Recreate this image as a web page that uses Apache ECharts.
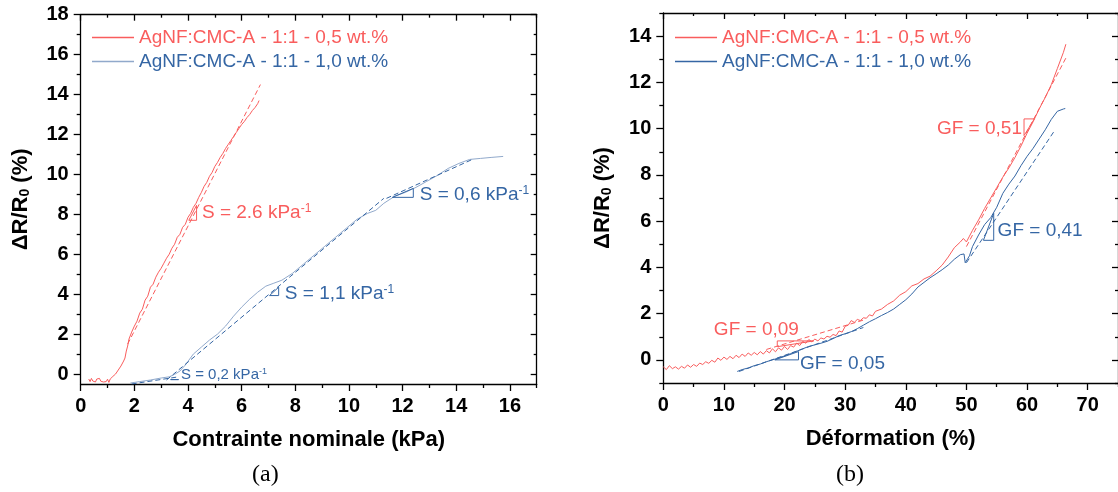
<!DOCTYPE html>
<html>
<head>
<meta charset="utf-8">
<script src="https://cdn.jsdelivr.net/npm/echarts@6/dist/echarts.min.js"></script>
<style>
html,body{margin:0;padding:0;background:#fff;}
#c{width:1118px;height:492px;}
</style>
</head>
<body>
<div id="c"></div>
<script>
// ---------- DATA ----------
const nameA = 'AgNF:CMC-A - 1:1 - 0,5 wt.%';
const nameB = 'AgNF:CMC-A - 1:1 - 1,0 wt.%';

// (a) Contrainte nominale (kPa) vs dR/R0 (%)
const a_red = [[0.30,-0.25],[0.35,-0.38],[0.40,-0.22],[0.45,-0.35],[0.50,-0.28],[0.55,-0.40],[0.60,-0.25],[0.65,-0.33],[0.70,-0.22],[0.75,-0.36],[0.80,-0.28],[0.85,-0.40],[0.90,-0.30],[0.95,-0.38],[1.00,-0.26],[1.05,-0.42],[1.10,-0.25],[1.15,-0.30],[1.20,-0.12],[1.25,-0.20],[1.30,0.00],[1.35,-0.05],[1.40,0.20],[1.45,0.15],[1.50,0.40],[1.55,0.35],[1.60,0.65],[1.65,0.80],[1.70,1.15],[1.75,1.40],[1.80,1.75],[1.85,1.80],[1.90,2.10],[2.00,2.40],[2.10,2.65],[2.20,3.05],[2.30,3.25],[2.40,3.70],[2.50,3.90],[2.60,4.35],[2.70,4.50],[2.80,4.85],[2.90,5.10],[3.00,5.30],[3.10,5.55],[3.20,5.80],[3.30,6.00],[3.40,6.30],[3.50,6.50],[3.60,6.85],[3.70,7.00],[3.80,7.35],[3.90,7.50],[4.00,7.85],[4.10,8.05],[4.20,8.35],[4.30,8.55],[4.40,8.85],[4.50,9.10],[4.60,9.40],[4.70,9.60],[4.80,9.90],[4.90,10.10],[5.00,10.40],[5.10,10.60],[5.20,10.85],[5.30,11.05],[5.40,11.30],[5.50,11.50],[5.60,11.70],[5.70,11.90],[5.80,12.10],[5.90,12.30],[6.00,12.50],[6.10,12.65],[6.20,12.85],[6.30,13.00],[6.40,13.20],[6.50,13.35],[6.60,13.55],[6.65,13.70]];
const a_redFit = [[1.75,1.5],[6.7,14.5]];
const a_blue = [[1.85,-0.45],[2.2,-0.38],[2.6,-0.30],[3.0,-0.20],[3.3,-0.14],[3.5,-0.02],[3.7,0.15],[3.9,0.45],[4.2,1.0],[4.5,1.35],[4.8,1.7],[5.1,2.0],[5.4,2.4],[5.7,2.9],[6.0,3.35],[6.3,3.75],[6.6,4.1],[6.9,4.4],[7.2,4.55],[7.5,4.7],[7.9,5.05],[8.3,5.5],[8.7,5.95],[9.1,6.4],[9.5,6.85],[9.9,7.3],[10.3,7.75],[10.7,8.05],[11.0,8.2],[11.3,8.55],[11.7,8.9],[12.1,9.1],[12.5,9.35],[12.9,9.65],[13.3,9.95],[13.7,10.3],[14.1,10.55],[14.5,10.75],[14.9,10.8],[15.3,10.85],[15.75,10.9]];
const a_blueFit1 = [[1.9,-0.5],[3.6,-0.15]];
const a_blueFit2 = [[3.2,-0.3],[11.3,8.8]];
const a_blueFit3 = [[11.4,8.8],[14.6,10.75]];
const a_triRed = [[4.03,7.70],[4.32,7.70],[4.32,8.45],[4.03,7.70]];
const a_triBlue1 = [[3.35,-0.28],[3.65,-0.28],[3.65,-0.20],[3.35,-0.28]];
const a_triBlue2 = [[7.04,3.93],[7.38,3.93],[7.38,4.35],[7.04,3.93]];
const a_triBlue3 = [[11.62,8.85],[12.40,8.85],[12.40,9.30],[11.62,8.85]];
const a_xMajor = [0,2,4,6,8,10,12,14,16];
const a_xMinor = [1,3,5,7,9,11,13,15,17];
const a_yMajor = [0,2,4,6,8,10,12,14,16,18];
const a_yMinor = [1,3,5,7,9,11,13,15,17];

// (b) Déformation (%) vs dR/R0 (%)
const b_red = [[0,-0.3],[0.5,-0.42],[1,-0.25],[1.5,-0.38],[2,-0.3],[2.5,-0.4],[3,-0.28],[3.5,-0.36],[4,-0.22],[4.5,-0.32],[5,-0.2],[5.5,-0.28],[6,-0.14],[6.5,-0.2],[7,-0.08],[7.5,-0.15],[8,-0.02],[8.5,-0.1],[9,0.08],[9.5,-0.02],[10,0.12],[10.5,0.02],[11,0.15],[11.5,0.05],[12,0.2],[12.5,0.1],[13,0.25],[13.5,0.15],[14,0.3],[14.5,0.2],[15,0.32],[15.5,0.22],[16,0.36],[16.5,0.25],[17,0.4],[17.5,0.3],[18,0.48],[18.5,0.35],[19,0.52],[19.5,0.42],[20,0.58],[20.5,0.45],[21,0.62],[21.5,0.55],[22,0.72],[22.5,0.62],[23,0.8],[23.5,0.72],[24,0.88],[24.5,0.78],[25,0.9],[25.5,0.82],[26,0.95],[26.5,0.9],[27,1.02],[27.5,0.98],[28,1.1],[28.5,1.05],[29,1.25],[29.5,1.2],[30,1.45],[30.5,1.5],[31,1.7],[31.5,1.62],[32,1.75],[32.5,1.7],[33,1.82],[33.5,1.8],[34,1.95],[34.5,1.9],[35,2.1],[36,2.2],[37,2.4],[38,2.55],[39,2.8],[40,2.95],[41,3.2],[42,3.3],[43,3.5],[44,3.62],[45,3.85],[46,4.1],[47,4.45],[48,4.85],[49,5.1],[49.5,5.25],[50,5.1],[50.5,5.35],[51,5.6],[52,6.05],[53,6.55],[54,7.0],[55,7.45],[56,7.9],[57,8.3],[58,8.75],[59,9.25],[60,9.8],[61,10.3],[62,10.85],[63,11.35],[64,11.9],[65,12.6],[66,13.3],[66.4,13.65]];
const b_redFit1 = [[17,0.45],[33,1.72]];
const b_redFit2 = [[50,4.9],[66.6,13.15]];
const b_blue = [[12.2,-0.5],[13,-0.42],[14,-0.35],[15,-0.25],[16,-0.18],[17,-0.08],[18,0.0],[19,0.08],[20,0.17],[21,0.27],[22,0.37],[23,0.48],[24,0.58],[25,0.65],[26,0.72],[27,0.8],[28,0.92],[29,1.05],[30,1.13],[31,1.22],[32,1.35],[33,1.5],[34,1.65],[35,1.78],[36,1.92],[37,2.05],[38,2.2],[39,2.4],[40,2.6],[41,2.85],[42,3.15],[43,3.35],[44,3.55],[45,3.72],[46,3.9],[47,4.1],[48,4.35],[49,4.55],[49.6,4.58],[49.8,4.2],[50,4.15],[50.5,4.5],[51,4.9],[52,5.4],[53,5.85],[54,6.15],[55,6.6],[56,7.2],[57,7.6],[58,7.95],[59,8.4],[60,8.8],[61,9.15],[62,9.55],[63,9.95],[64,10.4],[65,10.75],[66,10.85],[66.3,10.87]];
const b_blueFit1 = [[12.5,-0.5],[33,1.4]];
const b_blueFit2 = [[50,4.2],[64.5,9.9]];
const b_triRed1 = [[18.8,0.57],[18.8,0.82],[24.8,0.82],[18.8,0.57]];
const b_triRed2 = [[59.5,9.70],[59.5,10.42],[61.2,10.42],[59.5,9.70]];
const b_triBlue1 = [[18.4,0],[22.3,0],[22.3,0.36],[18.4,0]];
const b_triBlue2 = [[52.8,5.17],[54.5,5.17],[54.5,6.34],[52.8,5.17]];
const b_xMajor = [0,10,20,30,40,50,60,70];
const b_xMinor = [5,15,25,35,45,55,65,75];
const b_yMajor = [0,2,4,6,8,10,12,14];
const b_yMinor = [-1,1,3,5,7,9,11,13,15];

// annotation labels: [x, y, text, superscript, colour]
const a_labels = [[4.51,8.1,'S = 2.6 kPa','-1','red'],[7.6,4.03,'S = 1,1 kPa','-1','blue'],[12.63,9.0,'S = 0,6 kPa','-1','blue']];
const a_smallLabels = [[3.73,-0.03,'S = 0,2 kPa','-1','blue']];
const b_labels = [[8.3,1.29,'GF = 0,09','','red'],[22.5,-0.17,'GF = 0,05','','blue'],[55.1,5.6,'GF = 0,41','','blue']];
const b_leftLabels = [[59.2,10.0,'GF = 0,51','','red']];

// ---------- STYLE ----------
const RED = '#f95d5d';
const BLUE = '#3566a4';
const BLUE_LIGHT = '#91a9cb';
const FONT = '"Liberation Sans", Arial, sans-serif';

const grids = [
  {left: 80.7, top: 14.7, width: 456, height: 369.3},
  {left: 663.3, top: 13, width: 458.3, height: 370}
];
const ranges = [
  {xmin:0, xmax:17, ymin:-0.5, ymax:18, xMaj:a_xMajor, xMin:a_xMinor, yMaj:a_yMajor, yMin:a_yMinor, xName:'Contrainte nominale (kPa)'},
  {xmin:0, xmax:75, ymin:-1, ymax:15, xMaj:b_xMajor, xMin:b_xMinor, yMaj:b_yMajor, yMin:b_yMinor, xName:'Déformation (%)'}
];

const axLine = {show:true, onZero:false, lineStyle:{color:'#000', width:1.3}};
const tickStyle = {color:'#000', width:1.3};
const labelFont = {fontFamily: FONT, fontWeight:'bold', fontSize:20, color:'#000'};

const xAxis = [], yAxis = [];
ranges.forEach((r, g) => {
  xAxis.push({gridIndex:g, type:'value', position:'bottom', min:r.xmin, max:r.xmax,
    axisLine:axLine, splitLine:{show:false},
    axisTick:{show:true, inside:false, length:7, lineStyle:tickStyle, customValues:r.xMaj},
    axisLabel:Object.assign({show:true, margin:12, customValues:r.xMaj}, labelFont),
    name:r.xName, nameLocation:'middle', nameGap:45,
    nameTextStyle:{fontFamily:FONT, fontWeight:'bold', fontSize:22, color:'#000'}});
  xAxis.push({gridIndex:g, type:'value', position:'bottom', min:r.xmin, max:r.xmax,
    axisLine:{show:false, onZero:false}, splitLine:{show:false}, axisLabel:{show:false},
    axisTick:{show:true, inside:false, length:4, lineStyle:tickStyle, customValues:r.xMin}});
  xAxis.push({gridIndex:g, type:'value', position:'top', min:r.xmin, max:r.xmax,
    axisLine:axLine, splitLine:{show:false}, axisLabel:{show:false},
    axisTick:{show:true, inside:true, length:6, lineStyle:tickStyle, customValues:r.xMaj}});
  xAxis.push({gridIndex:g, type:'value', position:'top', min:r.xmin, max:r.xmax,
    axisLine:{show:false, onZero:false}, splitLine:{show:false}, axisLabel:{show:false},
    axisTick:{show:true, inside:true, length:3, lineStyle:tickStyle, customValues:r.xMin}});

  yAxis.push({gridIndex:g, type:'value', position:'left', min:r.ymin, max:r.ymax,
    axisLine:axLine, splitLine:{show:false},
    axisTick:{show:true, inside:false, length:7, lineStyle:tickStyle, customValues:r.yMaj},
    axisLabel:Object.assign({show:true, margin:12, customValues:r.yMaj}, labelFont),
    name:'{a|ΔR/R}{s|0}{a| (%)}', nameLocation:'middle', nameGap:49, nameRotate:90,
    nameTextStyle:{rich:{
      a:{fontFamily:FONT, fontWeight:'bold', fontSize:22, color:'#000'},
      s:{fontFamily:FONT, fontWeight:'bold', fontSize:14, color:'#000', verticalAlign:'bottom', padding:[8,0,0,0]}
    }}});
  yAxis.push({gridIndex:g, type:'value', position:'left', min:r.ymin, max:r.ymax,
    axisLine:{show:false, onZero:false}, splitLine:{show:false}, axisLabel:{show:false},
    axisTick:{show:true, inside:false, length:4, lineStyle:tickStyle, customValues:r.yMin}});
  yAxis.push({gridIndex:g, type:'value', position:'right', min:r.ymin, max:r.ymax,
    axisLine:axLine, splitLine:{show:false}, axisLabel:{show:false},
    axisTick:{show:true, inside:true, length:6, lineStyle:tickStyle, customValues:r.yMaj}});
  yAxis.push({gridIndex:g, type:'value', position:'right', min:r.ymin, max:r.ymax,
    axisLine:{show:false, onZero:false}, splitLine:{show:false}, axisLabel:{show:false},
    axisTick:{show:true, inside:true, length:3, lineStyle:tickStyle, customValues:r.yMin}});
});

function line(g, name, data, color, dashed, width) {
  return {type:'line', name:name, xAxisIndex:g*4, yAxisIndex:g*4, data:data,
    showSymbol:false, symbol:'none', silent:true, animation:false, z: dashed ? 3 : 2,
    lineStyle:{color:color, width:width || 1, type: dashed ? [5,3] : 'solid'},
    itemStyle:{color:color}};
}
function labels(g, arr, size, pos) {
  return {type:'scatter', xAxisIndex:g*4, yAxisIndex:g*4, silent:true, animation:false,
    symbol:'circle', symbolSize:0.5, itemStyle:{color:'#ffffff', opacity:1}, z:1,
    labelLayout:{hideOverlap:false},
    data: arr.map(d => ({
      value:[d[0], d[1]],
      label:{show:true, position:pos, distance:0, opacity:1,
        formatter: d[3] ? '{t|' + d[2] + '}{s|' + d[3] + '}' : '{t|' + d[2] + '}',
        rich:{
          t:{fontFamily:FONT, fontSize:size, color: d[4]==='red' ? RED : BLUE, opacity:1},
          s:{fontFamily:FONT, fontSize:Math.round(size*0.62), color: d[4]==='red' ? RED : BLUE, verticalAlign:'top', opacity:1}
        }}
    }))};
}

const series = [
  labels(0, a_labels, 19, 'right'),
  labels(0, a_smallLabels, 15, 'right'),
  line(0, nameA, a_red, RED),
  line(0, 'fitA1', a_redFit, RED, true),
  line(0, nameB, a_blue, BLUE_LIGHT),
  line(0, 'fitB1', a_blueFit1, BLUE, true),
  line(0, 'fitB2', a_blueFit2, BLUE, true),
  line(0, 'fitB3', a_blueFit3, BLUE, true),
  line(0, 'tri1', a_triRed, RED),
  line(0, 'tri2', a_triBlue1, BLUE),
  line(0, 'tri3', a_triBlue2, BLUE),
  line(0, 'tri4', a_triBlue3, BLUE),

  labels(1, b_labels, 19, 'right'),
  labels(1, b_leftLabels, 19, 'left'),
  line(1, nameA, b_red, RED),
  line(1, 'fitA2', b_redFit1, RED, true),
  line(1, 'fitA3', b_redFit2, RED, true),
  line(1, nameB + ' ', b_blue, BLUE),
  line(1, 'fitB4', b_blueFit1, BLUE, true),
  line(1, 'fitB5', b_blueFit2, BLUE, true),
  line(1, 'tri5', b_triRed1, RED),
  line(1, 'tri6', b_triRed2, RED),
  line(1, 'tri7', b_triBlue1, BLUE),
  line(1, 'tri8', b_triBlue2, BLUE)
];

const legendText = {fontFamily:FONT, fontSize:19};
function legendItems(blueName, blueColor) {
  return [{name:nameA, icon:'rect', textStyle:{color:RED}, itemStyle:{color:RED}},
          {name:blueName, icon:'rect', textStyle:{color:BLUE}, itemStyle:{color:blueColor}}];
}
const option = {
  animation:false,
  backgroundColor:'#fff',
  grid: grids,
  xAxis: xAxis,
  yAxis: yAxis,
  legend: [
    {left:87, top:23, orient:'vertical', itemWidth:42, itemHeight:1.3, itemGap:5, selectedMode:false,
      textStyle:legendText, data:legendItems(nameB, BLUE_LIGHT)},
    {left:670, top:23, orient:'vertical', itemWidth:42, itemHeight:1.3, itemGap:5, selectedMode:false,
      textStyle:legendText, data:legendItems(nameB + ' ', BLUE)}
  ],
  graphic: [
    {type:'text', left:252, top:463, style:{text:'(a)', font:'24px "Liberation Serif", "DejaVu Serif", serif', fill:'#000'}},
    {type:'text', left:836, top:463, style:{text:'(b)', font:'24px "Liberation Serif", "DejaVu Serif", serif', fill:'#000'}}
  ],
  series: series
};

const chart = echarts.init(document.getElementById('c'), null, {renderer:'canvas'});
chart.setOption(option);
</script>
</body>
</html>
